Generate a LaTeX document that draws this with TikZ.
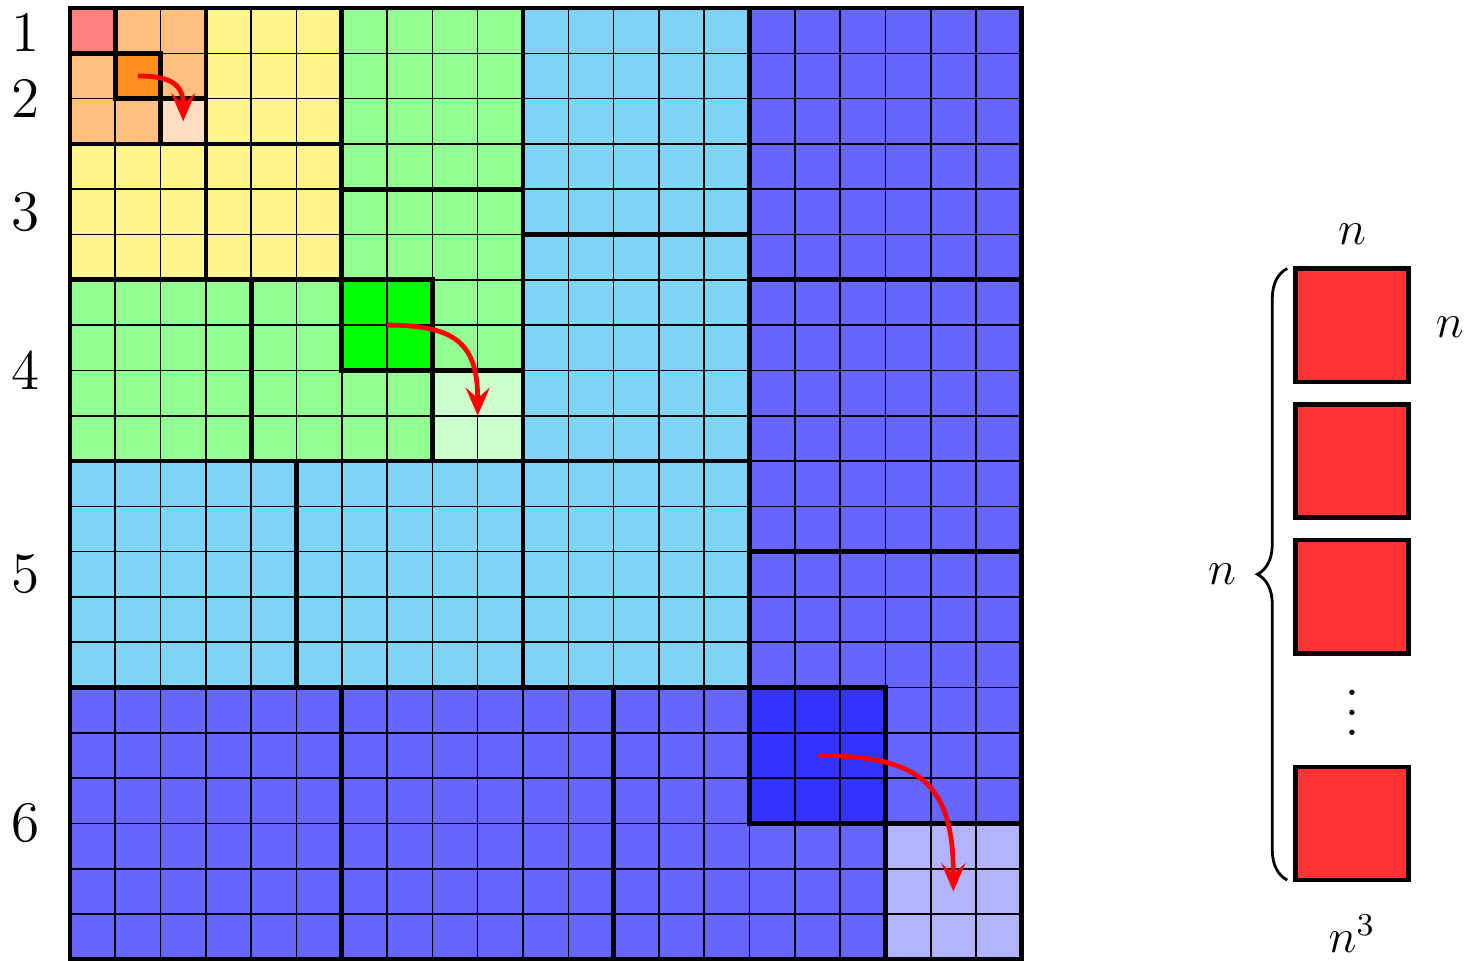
\documentclass[tikz,border=0pt]{standalone}
\usetikzlibrary{arrows.meta,decorations.pathreplacing}
\definecolor{cR}{HTML}{FF8080}
\definecolor{cO}{HTML}{FFC080}
\definecolor{cOd}{HTML}{FF8F20}
\definecolor{cOl}{HTML}{FFDDC0}
\definecolor{cY}{HTML}{FFF58C}
\definecolor{cG}{HTML}{93FF93}
\definecolor{cGd}{HTML}{00FF00}
\definecolor{cGl}{HTML}{CCFFCC}
\definecolor{cC}{HTML}{7FD4F5}
\definecolor{cB}{HTML}{6666FF}
\definecolor{cBd}{HTML}{3333FF}
\definecolor{cBl}{HTML}{B3B3FF}
\definecolor{cSq}{HTML}{FF3333}
\begin{document}
\begin{tikzpicture}[x=0.4cm,y=-0.4cm,
  gridline/.style={line width=0.4pt,black},
  blockedge/.style={line width=1.2pt,black},
  movearrow/.style={red,line width=1.2pt,-{Stealth[length=7pt,width=6pt,inset=2.6pt]}},
  levellabel/.style={font=\Large},
  redsq/.style={draw=black,fill=cSq,line width=1.1pt,minimum size=1cm,inner sep=0pt},
  sizelabel/.style={font=\large},
  bracestyle/.style={decorate,decoration={brace,amplitude=7.5pt},line width=0.7pt}]
\useasboundingbox (-1.545,-0.177) rectangle (30.883,21.037);
% fills
\fill[cB] (0,0) rectangle (21,21);
\fill[cC] (0,0) rectangle (15,15);
\fill[cG] (0,0) rectangle (10,10);
\fill[cY] (0,0) rectangle (6,6);
\fill[cO] (0,0) rectangle (3,3);
\fill[cR] (0,0) rectangle (1,1);
\fill[cOd] (1,1) rectangle (2,2);
\fill[cOl] (2,2) rectangle (3,3);
\fill[cGd] (6,6) rectangle (8,8);
\fill[cGl] (8,8) rectangle (10,10);
\fill[cBd] (15,15) rectangle (18,18);
\fill[cBl] (18,18) rectangle (21,21);
% grid
\draw[gridline,step=0.4cm] (0,0) grid (21,21);
% blocks
\draw[blockedge] (0,0) rectangle (21,21);
\draw[blockedge] (0,0) rectangle (1,1);
\draw[blockedge] (1,0) rectangle (3,2);
\draw[blockedge] (0,1) rectangle (2,3);
\draw[blockedge] (3,0) rectangle (6,3);
\draw[blockedge] (0,3) rectangle (3,6);
\draw[blockedge] (3,3) rectangle (6,6);
\draw[blockedge] (6,0) rectangle (10,4);
\draw[blockedge] (6,4) rectangle (10,8);
\draw[blockedge] (0,6) rectangle (4,10);
\draw[blockedge] (4,6) rectangle (8,10);
\draw[blockedge] (10,0) rectangle (15,5);
\draw[blockedge] (10,5) rectangle (15,10);
\draw[blockedge] (0,10) rectangle (5,15);
\draw[blockedge] (5,10) rectangle (10,15);
\draw[blockedge] (10,10) rectangle (15,15);
\draw[blockedge] (15,0) rectangle (21,6);
\draw[blockedge] (15,6) rectangle (21,12);
\draw[blockedge] (15,12) rectangle (21,18);
\draw[blockedge] (0,15) rectangle (6,21);
\draw[blockedge] (6,15) rectangle (12,21);
\draw[blockedge] (12,15) rectangle (18,21);
% move arrows
\coordinate (o2) at (1.5,1.5);
\coordinate (h2) at (2.5,2.5);
\coordinate (o4) at (7,7);
\coordinate (h4) at (9,9);
\coordinate (o6) at (16.5,16.5);
\coordinate (h6) at (19.5,19.5);
\draw[movearrow] (o2) .. controls +(0.78,0) and +(0,-0.78) .. (h2);
\draw[movearrow] (o4) .. controls +(1.56,0) and +(0,-1.56) .. (h4);
\draw[movearrow] (o6) .. controls +(2.33,0) and +(0,-2.33) .. (h6);
% level labels
\node[levellabel] (l1) at (-0.98,0.55) {1};
\node[levellabel] (l2) at (-0.98,2) {2};
\node[levellabel] (l3) at (-0.98,4.5) {3};
\node[levellabel] (l4) at (-0.98,8) {4};
\node[levellabel] (l5) at (-0.98,12.5) {5};
\node[levellabel] (l6) at (-0.98,18) {6};
% right side
\node[redsq] (s1) at (28.3,7) {};
\node[redsq] (s2) at (28.3,10) {};
\node[redsq] (s3) at (28.3,13) {};
\node[anchor=base,scale=1.25] (dots) at (28.3,16.05) {$\vdots$};
\node[redsq] (s4) at (28.3,18) {};
\coordinate (bb) at (26.87,19.25);
\coordinate (bt) at (26.87,5.75);
\draw[bracestyle] (bb) -- (bt);
\node[sizelabel] (nb) at (25.43,12.5) {$n$};
\node[sizelabel] (nt) at (28.3,5.0) {$n$};
\node[sizelabel] (nr) at (30.46,7.05) {$n$};
\node[sizelabel,anchor=base] (nc) at (28.3,20.86) {$n^3$};
\end{tikzpicture}
\end{document}
